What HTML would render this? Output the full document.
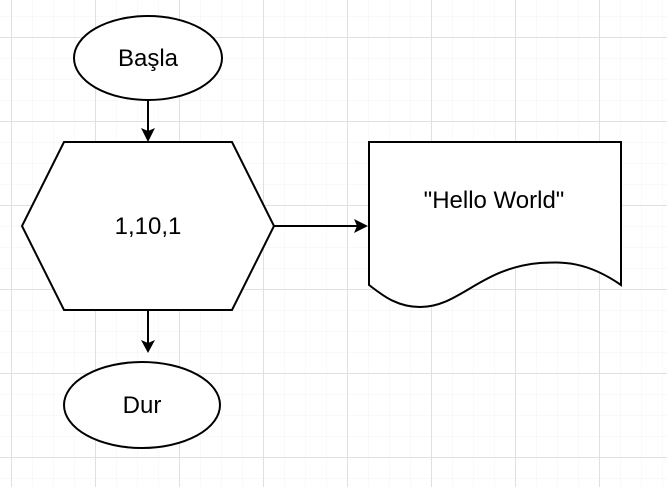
<!DOCTYPE html>
<html><head><style>
html,body{margin:0;padding:0;background:#fff;}
svg{display:block;}
text{font-family:"Liberation Sans",Arial,sans-serif;font-size:24px;fill:#000;}
</style></head><body>
<svg width="667" height="487" viewBox="0 0 667 487" xmlns="http://www.w3.org/2000/svg">
<defs>
<pattern id="minor" x="11" y="16" width="21" height="21" patternUnits="userSpaceOnUse">
<path d="M0 0H21M0 0V21" stroke="#f3f3f3" stroke-width="1" fill="none"/>
</pattern>
<pattern id="major" x="11" y="37" width="84" height="84" patternUnits="userSpaceOnUse">
<path d="M0 0.5H84M0.5 0V84" stroke="#e0e0e0" stroke-width="1" fill="none"/>
</pattern>
</defs>
<rect width="667" height="487" fill="url(#minor)"/>
<rect width="667" height="487" fill="url(#major)"/>
<g stroke="#000" stroke-width="2" fill="#fff">
<ellipse cx="148" cy="58" rx="74" ry="42"/>
<polygon points="64,142 232,142 274,226 232,310 64,310 22,226"/>
<path d="M369,142 H621 V285 C585,260 560,262 540,263 C480,268 460,307 420,307 C395,307 380,293 369,285 Z"/>
<ellipse cx="142" cy="405" rx="78" ry="43"/>
</g>
<g stroke="#000" stroke-width="2" fill="none">
<path d="M148,100 V132"/>
<path d="M274,226 H358"/>
<path d="M148,310 V346"/>
</g>
<g fill="#000">
<path d="M141,128 L148,142 L155,128 L148,131 Z"/>
<path d="M354,219 L368,226 L354,233 L357,226 Z"/>
<path d="M141,340 L148,353 L155,340 L148,343 Z"/>
</g>
<text x="148" y="66" text-anchor="middle">Başla</text>
<text x="148" y="234" text-anchor="middle">1,10,1</text>
<text x="494" y="208" text-anchor="middle">"Hello World"</text>
<text x="142" y="413" text-anchor="middle">Dur</text>
</svg>
</body></html>
